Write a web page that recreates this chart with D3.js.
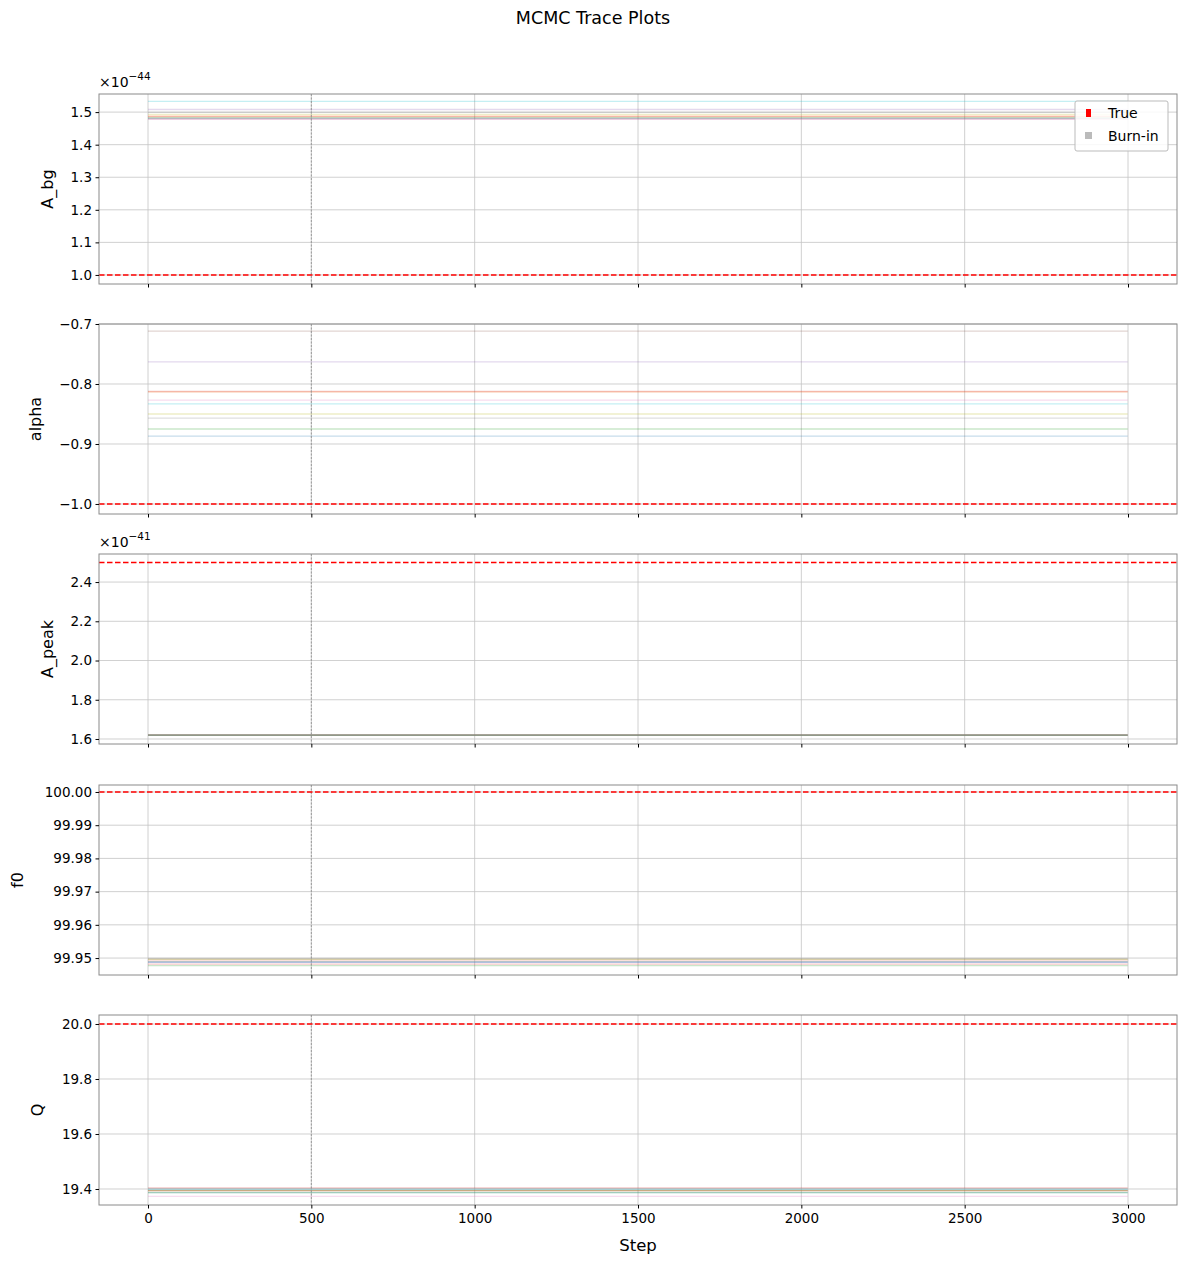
<!DOCTYPE html>
<html><head><meta charset="utf-8">
<script src="https://cdn.jsdelivr.net/npm/d3@7"></script>
<style>
body{margin:0;background:#fff;}
svg{font-family:"DejaVu Sans",sans-serif;}
</style></head>
<body>
<div id="chart"></div>
<script>
// ---------------- data ----------------
const nSteps = 3000;
const burnIn = 500;
const xTicks = [0, 500, 1000, 1500, 2000, 2500, 3000];
const walkerColors = ["#1f77b4","#ff7f0e","#2ca02c","#d62728","#9467bd","#8c564b","#e377c2","#7f7f7f","#bcbd22","#17becf"];

const paramNames = ["A_bg", "alpha", "A_peak", "f0", "Q"];
const trueValues = [1.0, -1.0, 2.5, 100.0, 20.0];
const exponents = [-44, null, -41, null, null];

// constant walker positions (chains stuck), one per walker, scaled by exponent
const walkersAbg   = [1.481, 1.488, 1.483, 1.486, 1.508, 1.479, 1.478, 1.499, 1.493, 1.533];
const walkersAlpha = [-0.887, -0.813, -0.875, -0.8125, -0.763, -0.712, -0.827, -0.857, -0.850, -0.833];
const walkersApeak = [1.6200, 1.6202, 1.6199, 1.6201, 1.6198, 1.6200, 1.6203, 1.6201, 1.6200, 1.6199];
const walkersF0    = [99.9487, 99.9491, 99.9477, 99.9482, 99.9487, 99.9496, 99.9491, 99.9499, 99.9496, 99.9489];
const walkersQ     = [19.3865, 19.3938, 19.3865, 19.4036, 19.3938, 19.3938, 19.3735, 19.3995, 19.3938, 19.3990];
const walkerSets = [walkersAbg, walkersAlpha, walkersApeak, walkersF0, walkersQ];

const yDomains = [[0.9722, 1.5556], [-1.0167, -0.7], [1.5745, 2.543], [99.9449, 100.0021], [19.3418, 20.0327]];
const yTicks = [
  [1.0, 1.1, 1.2, 1.3, 1.4, 1.5],
  [-1.0, -0.9, -0.8, -0.7],
  [1.6, 1.8, 2.0, 2.2, 2.4],
  [99.95, 99.96, 99.97, 99.98, 99.99, 100.00],
  [19.4, 19.6, 19.8, 20.0]
];
const yTickFormats = [".1f", ".1f", ".1f", ".2f", ".1f"];
const legendLabels = ["True", "Burn-in"];

// ---------------- layout ----------------
const W = 1187, H = 1266;
const left = 99, right = 1177;
const panelTops = [94, 324, 554, 785, 1015];
const panelH = 190;
const yLabelX = [47, 35, 47, 17, 37];

const svg = d3.select("#chart").append("svg").attr("width", W).attr("height", H);

svg.append("text").attr("x", 593).attr("y", 24).attr("text-anchor", "middle")
  .attr("font-size", 17.5).attr("fill", "#000").text("MCMC Trace Plots");

const x = d3.scaleLinear().domain([-150, 3150]).range([left, right]);

const gridColor = "#c4c4c4";
const spineColor = "#8a8a8a";

paramNames.forEach((name, i) => {
  const top = panelTops[i];
  const y = d3.scaleLinear().domain(yDomains[i]).range([top + panelH, top]);
  const g = svg.append("g");

  // grid
  g.selectAll(".gx").data(xTicks).join("line")
    .attr("x1", d => x(d)).attr("x2", d => x(d))
    .attr("y1", top).attr("y2", top + panelH)
    .attr("stroke", gridColor).attr("stroke-width", 0.8);
  g.selectAll(".gy").data(yTicks[i]).join("line")
    .attr("x1", left).attr("x2", right)
    .attr("y1", d => y(d)).attr("y2", d => y(d))
    .attr("stroke", gridColor).attr("stroke-width", 0.8);

  // walkers
  const line = d3.line().x(d => x(d[0])).y(d => y(d[1]));
  walkerSets[i].forEach((v, k) => {
    g.append("path").datum([[0, v], [nSteps - 1, v]])
      .attr("d", line).attr("fill", "none")
      .attr("stroke", walkerColors[k % 10]).attr("stroke-opacity", 0.25)
      .attr("stroke-width", 1.3);
  });

  // burn-in line
  g.append("line").attr("x1", x(burnIn)).attr("x2", x(burnIn))
    .attr("y1", top).attr("y2", top + panelH)
    .attr("stroke", "#999").attr("stroke-width", 1).attr("stroke-dasharray", "2,1.5");

  // true value
  g.append("line").attr("x1", left).attr("x2", right)
    .attr("y1", y(trueValues[i])).attr("y2", y(trueValues[i]))
    .attr("stroke", "red").attr("stroke-width", 1.5).attr("stroke-dasharray", "5.5,2.5");

  // frame
  g.append("rect").attr("x", left).attr("y", top).attr("width", right - left).attr("height", panelH)
    .attr("fill", "none").attr("stroke", spineColor).attr("stroke-width", 1);

  // y axis
  const fmt = d3.format(yTickFormats[i]);
  const yAxis = d3.axisLeft(y).tickValues(yTicks[i]).tickFormat(d => fmt(d).replace("-", "\u2212")).tickSize(3.5).tickPadding(3.5);
  const ya = svg.append("g").attr("transform", `translate(${left},0)`).call(yAxis);
  ya.select(".domain").remove();
  ya.selectAll("text").attr("font-size", 13.5).attr("font-family", "DejaVu Sans").attr("fill", "#000");

  // x axis ticks
  const xAxis = d3.axisBottom(x).tickValues(xTicks).tickFormat(d3.format("d")).tickSize(3.5).tickPadding(5);
  const xa = svg.append("g").attr("transform", `translate(0,${top + panelH})`).call(xAxis);
  xa.select(".domain").remove();
  xa.selectAll("text").attr("font-size", 13.5).attr("font-family", "DejaVu Sans").attr("fill", "#000");
  if (i < paramNames.length - 1) xa.selectAll("text").remove();

  // y label
  svg.append("text").attr("transform", `translate(${yLabelX[i] + 6},${top + panelH / 2}) rotate(-90)`)
    .attr("text-anchor", "middle").attr("font-size", 16).attr("fill", "#000").text(name);

  // exponent
  if (exponents[i] !== null) {
    const t = svg.append("text").attr("x", left).attr("y", top - 7).attr("font-size", 14).attr("fill", "#000");
    t.append("tspan").text("\u00d710");
    t.append("tspan").attr("dy", -7).attr("font-size", 10.5).text("\u2212" + Math.abs(exponents[i]));
  }

  // legend in first panel
  if (i === 0) {
    const lg = svg.append("g").attr("transform", "translate(1075,101)");
    lg.append("rect").attr("width", 93).attr("height", 50).attr("rx", 2)
      .attr("fill", "#fff").attr("fill-opacity", 0.85).attr("stroke", "#bbb");
    lg.append("rect").attr("x", 11).attr("y", 8).attr("width", 5).attr("height", 8).attr("fill", "red");
    lg.append("rect").attr("x", 10).attr("y", 31).attr("width", 7).attr("height", 7).attr("fill", "#bbb");
    lg.append("text").attr("x", 33).attr("y", 17).attr("font-size", 14).attr("fill", "#000").text(legendLabels[0]);
    lg.append("text").attr("x", 33).attr("y", 40).attr("font-size", 14).attr("fill", "#000").text(legendLabels[1]);
  }
});

svg.append("text").attr("x", 638).attr("y", 1251).attr("text-anchor", "middle")
  .attr("font-size", 16.5).attr("fill", "#000").text("Step");
</script>
</body></html>
